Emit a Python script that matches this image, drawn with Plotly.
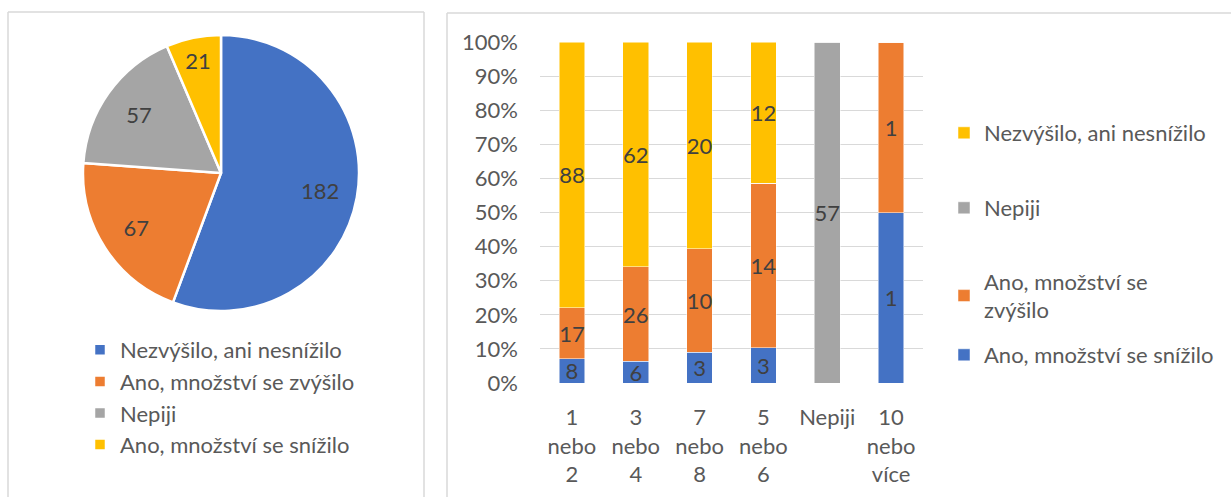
import plotly.graph_objects as go

# ---- data ----
pie_labels = ["Nezvýšilo, ani nesnížilo", "Ano, množství se zvýšilo", "Nepiji", "Ano, množství se snížilo"]
pie_values = [182, 67, 57, 21]
pie_colors = ["#4472C4", "#ED7D31", "#A5A5A5", "#FFC000"]

categories = ["1<br>nebo<br>2", "3<br>nebo<br>4", "7<br>nebo<br>8", "5<br>nebo<br>6", "Nepiji", "10<br>nebo<br>více"]
snizilo = [8, 6, 3, 3, 0, 1]
zvysilo = [17, 26, 10, 14, 0, 1]
nepiji = [0, 0, 0, 0, 57, 0]
nezvysilo = [88, 62, 20, 12, 0, 0]

bar_series = [
    ("Ano, množství se snížilo", snizilo, "#4472C4", "legend5"),
    ("Ano, množství se<br>zvýšilo", zvysilo, "#ED7D31", "legend4"),
    ("Nepiji", nepiji, "#A5A5A5", "legend3"),
    ("Nezvýšilo, ani nesnížilo", nezvysilo, "#FFC000", "legend2"),
]

W, H = 1231, 497
FONT = "Lato"
TXT = "#404040"
AX = "#595959"

def px(x):
    return x / W

def py(y):
    return 1 - y / H

pie_domain = dict(x=[px(221 - 138), px(221 + 138)], y=[py(173 + 138), py(173 - 138)])

fig = go.Figure()

# main pie (slices + legend)
fig.add_trace(go.Pie(
    labels=pie_labels, values=pie_values, sort=False, direction="clockwise", rotation=0,
    marker=dict(colors=pie_colors, line=dict(color="white", width=2.5)),
    textinfo="none", domain=pie_domain,
    legend="legend", showlegend=True, hoverinfo="label+value", automargin=False,
))
# transparent ring carrying the value labels (places them further out, like Excel)
fig.add_trace(go.Pie(
    labels=pie_labels, values=pie_values, sort=False, direction="clockwise", rotation=0,
    marker=dict(colors=["rgba(0,0,0,0)"] * len(pie_values), line=dict(width=0)),
    hole=0.46, textinfo="value", textposition="inside", insidetextorientation="horizontal",
    textfont=dict(family=FONT, size=22, color=TXT),
    domain=pie_domain, showlegend=False, hoverinfo="skip", automargin=False,
))

for name, vals, col, lg in bar_series:
    fig.add_trace(go.Bar(
        x=categories, y=vals, name=name, marker=dict(color=col, line=dict(color="white", width=0.5)),
        text=[str(v) if v else "" for v in vals], textposition="inside", insidetextanchor="middle",
        textangle=0, constraintext="none", cliponaxis=False,
        textfont=dict(family=FONT, size=22, color=TXT),
        legend=lg, xaxis="x", yaxis="y",
    ))

legend_common = dict(font=dict(family=FONT, size=22, color=AX), bgcolor="rgba(0,0,0,0)",
                     xanchor="left", yanchor="middle", xref="paper", yref="paper",
                     itemclick=False, itemdoubleclick=False)

border = dict(color="#D9D9D9", width=1.5)

fig.update_layout(
    width=W, height=H, autosize=False,
    margin=dict(l=0, r=0, t=0, b=0, pad=0, autoexpand=False),
    paper_bgcolor="white", plot_bgcolor="white",
    font=dict(family=FONT, size=22, color=AX),
    barmode="stack", barnorm="fraction", bargap=0.6,
    xaxis=dict(domain=[px(540), px(923)], showgrid=False, showline=False, ticks="",
               ticklabelstandoff=19, automargin=False,
               tickfont=dict(family=FONT, size=22, color=AX), anchor="y"),
    yaxis=dict(domain=[py(383), py(42)], range=[0, 1.0005], dtick=0.1, tickformat=".0%",
               showgrid=True, gridcolor="#D9D9D9", gridwidth=1.3, zeroline=False,
               showline=False, ticks="", ticklabelstandoff=21, automargin=False,
               tickfont=dict(family=FONT, size=22, color=AX), anchor="x"),
    legend=dict(**legend_common, x=px(80), y=py(397.5), tracegroupgap=0),
    legend2=dict(**legend_common, x=px(944), y=py(133)),
    legend3=dict(**legend_common, x=px(944), y=py(208)),
    legend4=dict(**legend_common, x=px(944), y=py(296)),
    legend5=dict(**legend_common, x=px(944), y=py(355)),
    showlegend=True,
    shapes=[
        dict(type="line", xref="paper", yref="paper", x0=px(8), x1=px(424), y0=py(12), y1=py(12), line=border),
        dict(type="line", xref="paper", yref="paper", x0=px(8), x1=px(8), y0=py(12), y1=0, line=border),
        dict(type="line", xref="paper", yref="paper", x0=px(424), x1=px(424), y0=py(12), y1=0, line=border),
        dict(type="line", xref="paper", yref="paper", x0=px(447), x1=1, y0=py(13), y1=py(13), line=border),
        dict(type="line", xref="paper", yref="paper", x0=px(447), x1=px(447), y0=py(13), y1=0, line=border),
    ],
)

fig.write_html("out.html")
